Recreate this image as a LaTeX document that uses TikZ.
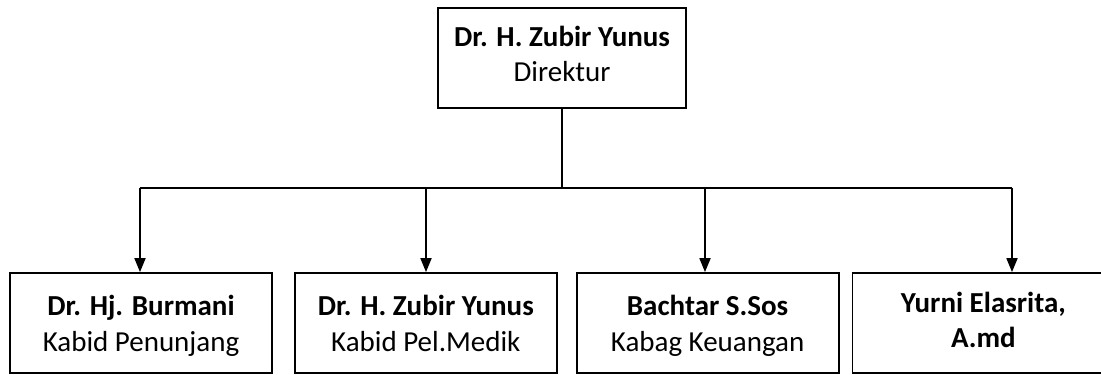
\documentclass[tikz,border=0pt]{standalone}
\usepackage{fontspec}
\setmainfont{Carlito}
\usetikzlibrary{arrows.meta,positioning}
\newcommand{\jarakatas}[1]{\rule{0pt}{#1}}
\newcommand{\jarakbawah}[1]{\rule[-#1]{0pt}{#1}}
\tikzstyle{kepala}=[draw, minimum width=248pt, minimum height=100pt, align=center, font=\fontsize{29}{35}\selectfont]
\tikzstyle{bidang}=[draw, minimum width=262pt, minimum height=100pt, align=center, font=\fontsize{29}{36}\selectfont]

\begin{document}
\begin{tikzpicture}[x=1pt,y=-1pt,>={Triangle[length=14pt,width=11pt]},line width=1.8pt]
    \useasboundingbox (0,0) rectangle (1101,375);
    \node [kepala] (dir) at (562,58) {\jarakatas{22pt}\textbf{Dr. H. Zubir Yunus}\\Direktur\jarakbawah{11pt}};
    \node [bidang] (b1) at (141,323) {\jarakatas{28pt}\textbf{Dr. Hj. Burmani}\\Kabid Penunjang\jarakbawah{8pt}};
    \node [bidang] (b2) [right=21pt of b1] {\jarakatas{28pt}\textbf{Dr. H. Zubir Yunus}\\Kabid Pel.Medik\jarakbawah{8pt}};
    \node [bidang] (b3) [right=18pt of b2] {\jarakatas{28pt}\textbf{Bachtar S.Sos}\\Kabag Keuangan\jarakbawah{8pt}};
    \node [bidang, font=\fontsize{29}{35}\selectfont] (b4) [right=12pt of b3] {\jarakatas{22pt}\textbf{Yurni Elasrita,}\\\textbf{A.md}\jarakbawah{9pt}};
    \coordinate (t1) at (140,188);
    \coordinate (t2) at (426,188);
    \coordinate (t3) at (705,188);
    \coordinate (t4) at (1012,188);
    \draw (dir) -- (dir |- t1);
    \draw (t1) -- (t4);
    \draw[->] (t1) -- (t1 |- b1.north);
    \draw[->] (t2) -- (t2 |- b2.north);
    \draw[->] (t3) -- (t3 |- b3.north);
    \draw[->] (t4) -- (t4 |- b4.north);
\end{tikzpicture}
\end{document}
